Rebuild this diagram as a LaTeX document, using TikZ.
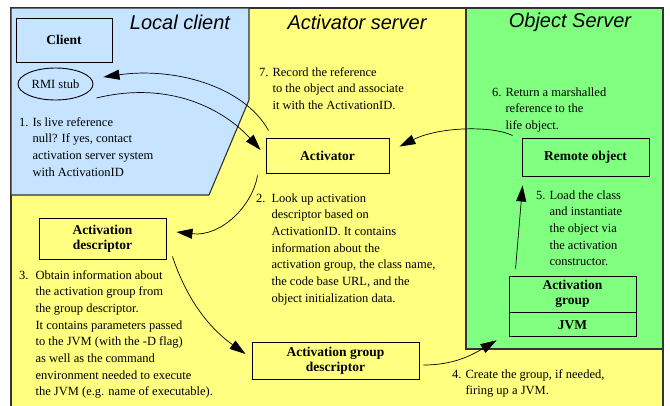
\documentclass[tikz,border=0pt]{standalone}
\usepackage{fontspec}
\setmainfont{Liberation Serif}
\setsansfont{Liberation Sans}
\usetikzlibrary{
  arrows.meta,
  positioning,
  shapes.geometric
}

\definecolor{clientblue}{RGB}{198,228,255}
\definecolor{serveryellow}{RGB}{255,255,128}
\definecolor{objectgreen}{RGB}{128,255,128}
\definecolor{edgegray}{RGB}{51,51,51}

\newcommand{\notefont}{\fontsize{12.5}{16.7}\selectfont}
\newcommand{\boxfont}{\fontsize{13.5}{15}\selectfont\bfseries}

\tikzset{
  area/.style={draw=edgegray, line width=1.1pt},
  title/.style={font=\sffamily\itshape\fontsize{20}{24}\selectfont},
  box/.style={draw=black, line width=0.9pt, font=\boxfont, align=center, inner sep=0pt},
  note/.style={anchor=base west, inner sep=0pt, font=\notefont},
  flow/.style={->, line width=0.7pt}
}

\begin{document}
\begin{tikzpicture}[x=1pt, y=-1pt, >={Triangle[length=16pt,width=10pt]}]

\useasboundingbox (0,0) rectangle (670,405);

%--------------------
% areas
%--------------------
\draw[area, fill=serveryellow] (11,8) rectangle (663,412);
\draw[area, fill=clientblue]
  (11,8) -- (249,8) -- (249,100) -- (209,195) -- (11,195) -- cycle;
\draw[area, fill=objectgreen] (466,8) rectangle (663,349);

\node[title] (tlocal) at (180,22) {Local client};
\node[title] (tactivator) at (357,22) {Activator server};
\node[title] (tobject) at (570,22) {Object Server};

%--------------------
% boxes
%--------------------
\node[box, fill=clientblue, minimum width=96pt, minimum height=44pt]
  (client) at (64,40) {Client};
\node[draw=black, line width=0.9pt, ellipse, fill=clientblue,
  minimum width=75pt, minimum height=32pt, inner sep=0pt, font=\notefont]
  (stub) at (55.5,84) {RMI stub};

\node[box, fill=serveryellow, minimum width=123pt, minimum height=35pt]
  (activator) at (327.5,155.5) {Activator};
\node[box, fill=serveryellow, minimum width=127pt, minimum height=41pt]
  (actdesc) at (102.5,238.5) {Activation\\descriptor};
\node[box, fill=serveryellow, minimum width=167pt, minimum height=37pt]
  (groupdesc) at (335.5,360.5) {Activation group\\descriptor};

\node[box, fill=objectgreen, minimum width=127pt, minimum height=38pt]
  (remote) at (585.5,157) {Remote object};
\node[box, fill=objectgreen, minimum width=127pt, minimum height=36pt]
  (actgroup) at (572.5,294) {Activation\\group};
\node[box, fill=objectgreen, minimum width=127pt, minimum height=24pt,
  below=0pt of actgroup] (jvm) {JVM};

%--------------------
% numbered steps
%--------------------
\node[note] (step1) at (19,126) {\begin{tabular}[t]{@{}l@{\hspace{4pt}}l@{}}
  1. & Is live reference\\
     & null? If yes, contact\\
     & activation server system\\
     & with ActivationID
\end{tabular}};

\node[note] (step2) at (256,202) {\begin{tabular}[t]{@{}l@{\hspace{6pt}}l@{}}
  2. & Look up activation\\
     & descriptor based on\\
     & ActivationID. It contains\\
     & information about the\\
     & activation group, the class name,\\
     & the code base URL, and the\\
     & object initialization data.
\end{tabular}};

\node[note] (step3) at (19,279) {\begin{tabular}[t]{@{}l@{\hspace{7pt}}l@{}}
  3. & Obtain information about\\
     & the activation group from\\
     & the group descriptor.\\
     & It contains parameters passed\\
     & to the JVM (with the -D flag)\\
     & as well as the command\\
     & environment needed to execute\\
     & the JVM (e.g. name of executable).
\end{tabular}};

\node[note] (step4) at (452,378) {\begin{tabular}[t]{@{}l@{\hspace{4pt}}l@{}}
  4. & Create the group, if needed,\\
     & firing up a JVM.
\end{tabular}};

\node[note] (step5) at (536,199) {\begin{tabular}[t]{@{}l@{\hspace{4pt}}l@{}}
  5. & Load the class\\
     & and instantiate\\
     & the object via\\
     & the activation\\
     & constructor.
\end{tabular}};

\node[note] (step6) at (492,96) {\begin{tabular}[t]{@{}l@{\hspace{4pt}}l@{}}
  6. & Return a marshalled\\
     & reference to the\\
     & life object.
\end{tabular}};

\node[note] (step7) at (259,76) {\begin{tabular}[t]{@{}l@{\hspace{4pt}}l@{}}
  7. & Record the reference\\
     & to the object and associate\\
     & it with the ActivationID.
\end{tabular}};

%--------------------
% flow between the parts
%--------------------
% 1: stub asks the activator
\draw[flow] ([shift={(3,14)}]stub.east)
  .. controls +(74,-18) and +(-36,-40) .. ([shift={(-5,-5.5)}]activator.west);
% 2: activator looks up the descriptor
\draw[flow] ([shift={(-8,2)}]activator.south west)
  .. controls +(-5,30) and +(45,5) .. ([shift={(10,-6.5)}]actdesc.east);
% 3: descriptor -> group descriptor
\draw[flow] ([shift={(6,-3)}]actdesc.south east)
  .. controls +(15,45) and +(-35,-25) .. ([shift={(-6,-6.5)}]groupdesc.west);
% 4: create the group
\draw[flow] ([shift={(4,4.5)}]groupdesc.east)
  .. controls +(30,0) and +(-25,15) .. ([shift={(-12,3)}]jvm.south west);
% 5: group loads the object
\draw[flow] ([shift={(7,-7)}]actgroup.north west) -- ([shift={(1,9)}]remote.south west);
% 6: reference back to the activator
\draw[flow] ([shift={(-9,-2)}]remote.north west)
  .. controls +(-20,-10) and +(40,-20) .. ([shift={(10,9)}]activator.north east);
% 7: back to the stub
\draw[flow] ([shift={(3,-7)}]activator.north west)
  .. controls +(-25,-45) and +(70,-10) .. ([shift={(10,-7)}]stub.east);

\end{tikzpicture}
\end{document}
